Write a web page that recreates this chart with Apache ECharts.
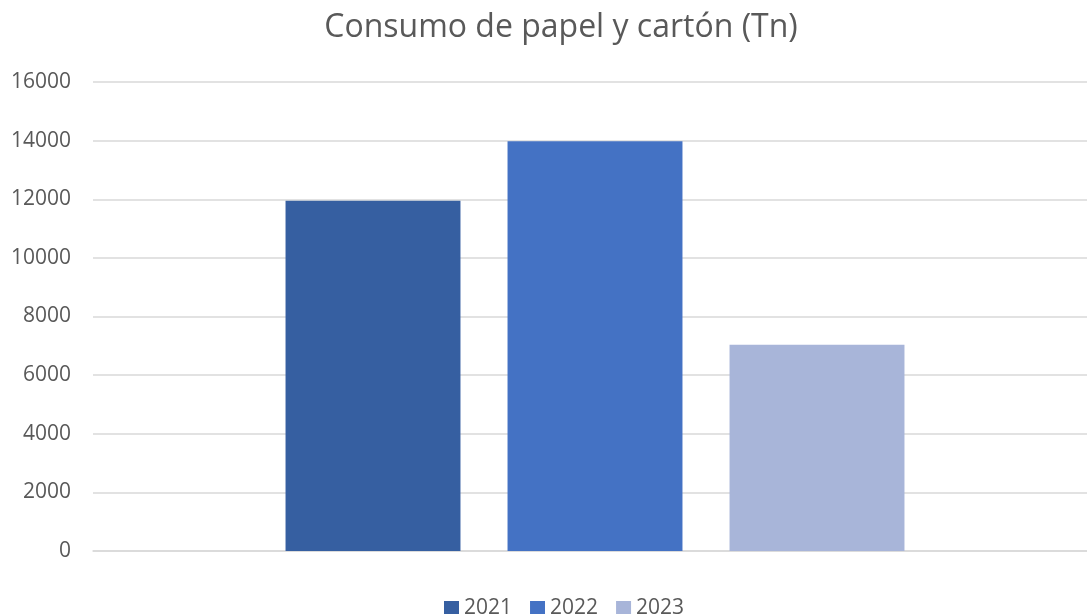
<!DOCTYPE html>
<html>
<head>
<meta charset="utf-8">
<script src="https://cdn.jsdelivr.net/npm/echarts@6/dist/echarts.min.js"></script>
<style>html,body{margin:0;padding:0;background:#fff}#c{width:1087px;height:614px}</style>
</head>
<body>
<div id="c"></div>
<script>
const title = 'Consumo de papel y cartón (Tn)';
const categories = [''];
const seriesNames = ['2021', '2022', '2023'];
const values2021 = [11950];
const values2022 = [13980];
const values2023 = [7040];
const yTicks = { min: 0, max: 16000, interval: 2000 };
const colors = ['#365FA1', '#4472C4', '#A8B5D9'];

const seriesValues = [values2021, values2022, values2023];
const chart = echarts.init(document.getElementById('c'), null, { renderer: 'canvas' });
const font = 'Open Sans';
chart.setOption({
  animation: false,
  title: {
    text: title, left: 556, top: 7, textAlign: 'center',
    textStyle: { fontFamily: font, fontSize: 32, fontWeight: 'normal', color: '#595959' }
  },
  legend: {
    top: 593, left: 439, itemWidth: 15, itemHeight: 15, itemGap: 18,
    icon: 'rect',
    textStyle: { fontFamily: font, fontSize: 21, color: '#595959', padding: [0, 0, 0, 0] },
    data: seriesNames
  },
  grid: [
    { left: 93, top: 82, right: 0, bottom: 63, containLabel: false },
    { left: 103, top: 82, right: 0, bottom: 63, containLabel: false }
  ],
  xAxis: [
    {
      type: 'category', gridIndex: 0, data: categories,
      axisLine: { lineStyle: { color: '#D9D9D9', width: 1.5 } },
      axisTick: { show: false }, axisLabel: { show: false }
    },
    {
      type: 'category', gridIndex: 1, data: categories,
      axisLine: { show: false }, axisTick: { show: false }, axisLabel: { show: false }
    }
  ],
  yAxis: [
    {
      type: 'value', gridIndex: 0, min: yTicks.min, max: yTicks.max, interval: yTicks.interval,
      axisLine: { show: false }, axisTick: { show: false },
      axisLabel: { fontFamily: font, fontSize: 21, color: '#595959', margin: 22, formatter: v => String(v) },
      splitLine: { lineStyle: { color: '#D9D9D9', width: 1.5 } }
    },
    {
      type: 'value', gridIndex: 1, min: yTicks.min, max: yTicks.max, interval: yTicks.interval,
      axisLine: { show: false }, axisTick: { show: false }, axisLabel: { show: false },
      splitLine: { show: false }
    }
  ],
  series: seriesNames.map((n, i) => ({
    name: n, type: 'bar', data: seriesValues[i],
    xAxisIndex: 1, yAxisIndex: 1,
    barGap: '26.9%', barCategoryGap: '37.1%',
    itemStyle: { color: colors[i] }
  }))
});
</script>
</body>
</html>
